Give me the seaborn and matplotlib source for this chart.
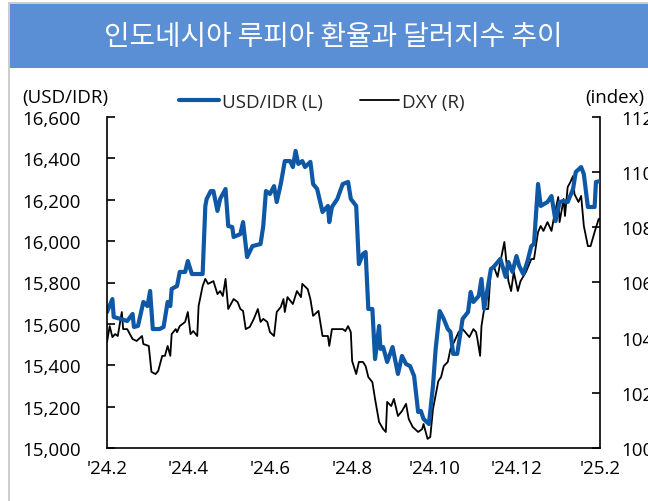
import matplotlib
matplotlib.use("Agg")
import matplotlib.pyplot as plt
from matplotlib.patches import Rectangle
from matplotlib.lines import Line2D
import pandas as pd
import seaborn as sns

# ---- data (days since 2024-02-01) ----
idr_day = [0, 4, 5, 10, 15, 19, 20, 23, 27, 30, 32, 34, 39, 42, 45, 47, 48, 52, 54, 58,
           60, 63, 71, 73, 74, 77, 79, 82, 84, 88, 90, 93, 94, 99, 101, 104, 108, 114, 116, 118,
           121, 124, 126, 129, 132, 136, 138, 140, 142, 145, 147, 151, 153, 156, 160, 164, 165, 167, 171, 175,
           179, 181, 185, 187, 190, 192, 194, 197, 199, 202, 203, 205, 208, 212, 216, 219, 222, 225, 228, 231,
           233, 235, 239, 242, 244, 247, 250, 253, 255, 257, 260, 264, 268, 270, 272, 276, 278, 280, 285, 287,
           292, 296, 298, 301, 304, 306, 309, 312, 315, 317, 320, 322, 327, 330, 333, 336, 339, 342, 346, 348,
           352, 354, 357, 362, 363, 366]
idr_val = [15657, 15720, 15633, 15624, 15614, 15648, 15585, 15590, 15706, 15686, 15759, 15575, 15575, 15585, 15706, 15686, 15769, 15783, 15851, 15851,
           15904, 15841, 15841, 16170, 16204, 16242, 16242, 16146, 16204, 16252, 16073, 16068, 16020, 16034, 16092, 15923, 15976, 15986, 16073, 16242,
           16228, 16266, 16189, 16276, 16387, 16387, 16358, 16436, 16373, 16387, 16358, 16383, 16276, 16252, 16141, 16170, 16092, 16165, 16204, 16276,
           16286, 16204, 16170, 15889, 15938, 15947, 15672, 15672, 15430, 15590, 15479, 15488, 15416, 15488, 15358, 15445, 15406, 15396, 15348, 15174,
           15179, 15140, 15116, 15300, 15479, 15662, 15624, 15575, 15561, 15455, 15455, 15624, 15657, 15754, 15706, 15735, 15817, 15672, 15865, 15875,
           15914, 15827, 15899, 15851, 15928, 15880, 15841, 15899, 15976, 15986, 16276, 16170, 16189, 16218, 16097, 16189, 16194, 16189, 16252, 16334,
           16358, 16324, 16165, 16165, 16286, 16290]

dxy_day = [0, 2, 4, 6, 8, 11, 12, 15, 19, 22, 26, 27, 31, 33, 36, 38, 41, 43, 45, 47,
           48, 51, 52, 54, 58, 60, 62, 64, 67, 68, 71, 73, 75, 79, 82, 84, 86, 88, 90, 94,
           97, 99, 101, 103, 106, 109, 112, 114, 116, 119, 121, 124, 126, 129, 131, 132, 134, 138, 141, 144,
           145, 149, 151, 153, 157, 160, 164, 165, 167, 171, 175, 177, 179, 181, 182, 185, 187, 190, 192, 194,
           197, 199, 202, 205, 207, 208, 211, 213, 216, 219, 222, 224, 227, 231, 234, 235, 238, 240, 242, 246,
           248, 250, 253, 255, 257, 261, 264, 266, 269, 272, 274, 275, 277, 278, 280, 283, 285, 287, 290, 292,
           295, 298, 300, 302, 305, 307, 311, 315, 317, 320, 322, 324, 327, 330, 332, 335, 336, 339, 340, 342,
           344, 346, 347, 350, 352, 354, 357, 359, 362, 365, 366]
dxy_val = [103.84, 104.42, 104.02, 104.13, 104.06, 104.93, 104.31, 104.31, 103.95, 103.88, 104.06, 103.77, 103.70, 102.76, 102.68, 102.79, 103.34, 103.34, 103.70, 103.34,
           104.13, 104.31, 104.20, 104.42, 104.57, 104.93, 104.13, 104.24, 104.06, 105.15, 105.87, 106.13, 105.95, 106.05, 105.58, 105.69, 105.51, 106.13, 105.04, 105.40,
           105.29, 105.04, 104.97, 104.31, 104.39, 104.68, 105.04, 104.57, 104.68, 104.57, 104.20, 104.06, 104.93, 105.11, 105.40, 104.93, 105.47, 105.22, 105.69, 105.47,
           105.95, 105.76, 105.40, 104.79, 104.97, 104.06, 104.06, 103.70, 104.31, 104.31, 104.31, 104.24, 104.42, 104.20, 103.15, 102.68, 103.12, 103.12, 102.97, 102.57,
           102.39, 101.78, 100.94, 100.69, 100.58, 101.67, 101.52, 101.78, 101.16, 101.34, 101.60, 101.05, 100.76, 100.58, 100.69, 100.87, 100.33, 100.40, 101.41, 102.43,
           102.57, 102.97, 103.12, 103.59, 103.77, 104.20, 104.31, 104.20, 104.02, 104.31, 104.20, 103.95, 103.34, 104.42, 105.04, 105.04, 106.49, 106.60, 106.20, 106.74,
           107.47, 106.05, 105.69, 106.38, 105.69, 106.05, 106.38, 106.85, 106.85, 107.83, 108.05, 107.87, 108.19, 107.87, 108.41, 109.10, 108.19, 109.03, 108.41, 109.46,
           109.64, 109.86, 109.21, 108.92, 109.14, 108.05, 107.32, 107.32, 107.83, 108.30, 108.30]

x_tick_dates = ["2024-02-01", "2024-04-01", "2024-06-01", "2024-08-01", "2024-10-01", "2024-12-01", "2025-02-01"]
x_tick_labels = ["'24.2", "'24.4", "'24.6", "'24.8", "'24.10", "'24.12", "'25.2"]
left_ticks = [15000, 15200, 15400, 15600, 15800, 16000, 16200, 16400, 16600]
right_ticks = [100, 102, 104, 106, 108, 110, 112]

title = "인도네시아 루피아 환율과 달러지수 추이"
idr_name = "USD/IDR (L)"
dxy_name = "DXY (R)"

# ---- style ----
sns.set_theme(style="white")
plt.rcParams['font.family'] = ['Open Sans', 'Noto Sans CJK KR', 'DejaVu Sans']

W, H = 648, 502
fig = plt.figure(figsize=(W / 100, H / 100), dpi=100)
fig.patch.set_facecolor("white")

# outer border + title banner
fig.add_artist(Rectangle((9 / W, -0.05), 1.2, 1 - 4 / H + 0.05, transform=fig.transFigure,
                         facecolor="none", edgecolor="#c4c4c4", lw=1.2))
fig.add_artist(Rectangle((9.5 / W, 1 - 69 / H), 1.0, 64 / H, transform=fig.transFigure,
                         facecolor="#5A8ED5", edgecolor="none"))
fig.text(333 / W, 1 - 37 / H, title, color="white", fontsize=20,
         family=['Noto Sans CJK KR', 'DejaVu Sans'], fontweight="light",
         ha="center", va="center")

base = pd.Timestamp("2024-02-01")
df_idr = pd.DataFrame({"date": base + pd.to_timedelta(idr_day, unit="D"), "value": idr_val})
df_dxy = pd.DataFrame({"date": base + pd.to_timedelta(dxy_day, unit="D"), "value": dxy_val})

ax = fig.add_axes([107 / W, (H - 449) / H, 493 / W, 331 / H])
ax2 = ax.twinx()
ax.set_zorder(ax2.get_zorder() + 1)
ax.patch.set_visible(False)

blue = "#0E58A5"
sns.lineplot(data=df_dxy, x="date", y="value", ax=ax2, color="black", lw=1.3, legend=False)
sns.lineplot(data=df_idr, x="date", y="value", ax=ax, color=blue, lw=3.0, legend=False)

xt = pd.to_datetime(x_tick_dates)
ax.set_xlim(xt[0], xt[-1])
ax.set_ylim(15000, 16600)
ax2.set_ylim(100, 112)
ax.set_xticks(xt)
ax.set_xticklabels(x_tick_labels)
ax.set_yticks(left_ticks)
ax.set_yticklabels([f"{v:,}" for v in left_ticks])
ax2.set_yticks(right_ticks)
ax2.set_yticklabels([str(v) for v in right_ticks])
for a in (ax, ax2):
    a.set_xlabel("")
    a.set_ylabel("")
    a.grid(False)

fs = 13.5
ax.tick_params(axis="x", direction="in", length=6, width=1.2, pad=8, labelsize=fs, colors="black")
ax.tick_params(axis="y", direction="in", length=6, width=1.2, pad=19, labelsize=fs, colors="black")
ax2.tick_params(axis="y", direction="in", length=6, width=1.2, pad=15, labelsize=fs, colors="black")

for s in ("top", "right"):
    ax.spines[s].set_visible(False)
for s in ("top", "left", "bottom"):
    ax2.spines[s].set_visible(False)
for sp in (ax.spines["left"], ax.spines["bottom"], ax2.spines["right"]):
    sp.set_color("black")
    sp.set_linewidth(1.2)

# axis unit labels
fig.text(22 / W, 1 - 98 / H, "(USD/IDR)", fontsize=fs, ha="left", va="center", color="black")
fig.text(585 / W, 1 - 98 / H, "(index)", fontsize=fs, ha="left", va="center", color="black")

handles = [Line2D([], [], color=blue, lw=3.0), Line2D([], [], color="black", lw=1.3)]
fig.legend(handles, [idr_name, dxy_name], loc="center", bbox_to_anchor=(322 / W, 1 - 103 / H),
           ncol=2, frameon=False, fontsize=fs, handlelength=2.1, handletextpad=0.15,
           columnspacing=2.0, borderpad=0, borderaxespad=0)

fig.savefig("out.png", dpi=100, facecolor="white")
